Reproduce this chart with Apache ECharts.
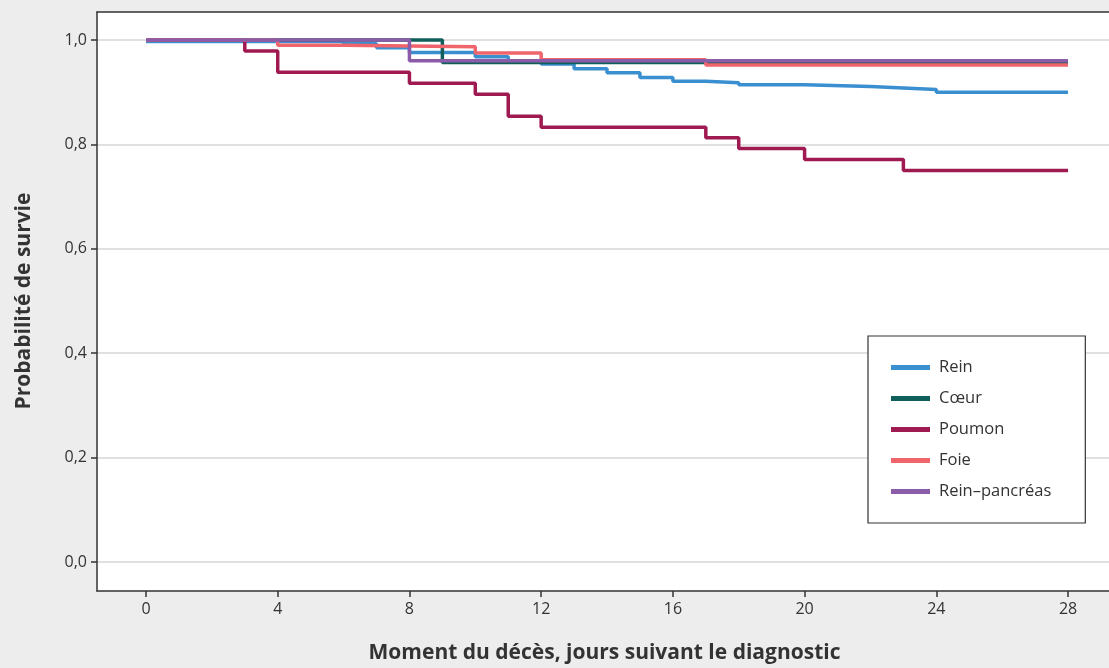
<!DOCTYPE html>
<html>
<head>
<meta charset="utf-8">
<script src="https://cdn.jsdelivr.net/npm/echarts@6/dist/echarts.min.js"></script>
<style>
html,body{margin:0;padding:0;background:#ededed;}
#chart{width:1109px;height:668px;}
</style>
</head>
<body>
<div id="chart"></div>
<script>
// Survival curves (Kaplan–Meier steps): days and survival probabilities
const seriesNames = ['Rein', 'Cœur', 'Poumon', 'Foie', 'Rein–pancréas'];
const reinDays   = [0, 6, 7, 8, 10, 11, 12, 13, 14, 15, 16, 17, 18, 20, 22, 23, 24, 28];
const reinVals   = [0.997, 0.993, 0.985, 0.976, 0.968, 0.960, 0.954, 0.945, 0.937, 0.928, 0.921, 0.918, 0.914, 0.911, 0.908, 0.905, 0.900, 0.900];
const coeurDays  = [0, 9, 28];
const coeurVals  = [1.0, 0.957, 0.957];
const poumonDays = [0, 3, 4, 8, 10, 11, 12, 17, 18, 20, 23, 28];
const poumonVals = [1.0, 0.979, 0.938, 0.917, 0.896, 0.854, 0.833, 0.8125, 0.792, 0.771, 0.75, 0.75];
const foieDays   = [0, 4, 6, 10, 12, 17, 28];
const foieVals   = [1.0, 0.990, 0.987, 0.975, 0.962, 0.952, 0.952];
const rpDays     = [0, 8, 28];
const rpVals     = [1.0, 0.960, 0.960];
const xTicks = [0, 4, 8, 12, 16, 20, 24, 28];
const yTicks = [0, 0.2, 0.4, 0.6, 0.8, 1.0];
const colors = ['#3a8fd0', '#115f5b', '#a01a52', '#f0646b', '#8b5ca8'];

const pairs = (d, v) => d.map((x, i) => [x, v[i]]);
const allData = [
  pairs(reinDays, reinVals),
  pairs(coeurDays, coeurVals),
  pairs(poumonDays, poumonVals),
  pairs(foieDays, foieVals),
  pairs(rpDays, rpVals)
];

const FONT = 'Open Sans';
const X_MIN = -1.488, X_MAX = 29.335;
const chart = echarts.init(document.getElementById('chart'));
chart.setOption({
  backgroundColor: '#ededed',
  animation: false,
  grid: {
    left: 97, top: 12, right: -3, bottom: 77,
    containLabel: false, outerBoundsMode: 'none',
    show: true, backgroundColor: '#ffffff', borderWidth: 0
  },
  xAxis: [{
    type: 'value', min: X_MIN, max: X_MAX, position: 'bottom',
    axisLine: { show: true, onZero: false, lineStyle: { color: '#333', width: 1.5 } },
    splitLine: { show: false },
    axisTick: { show: true, customValues: xTicks, length: 6, lineStyle: { color: '#333', width: 1.5 } },
    axisLabel: { customValues: xTicks, color: '#333', fontSize: 16, fontFamily: FONT, margin: 10 },
    name: 'Moment du décès, jours suivant le diagnostic',
    nameLocation: 'middle', nameGap: 52,
    nameTextStyle: { fontSize: 21, fontWeight: 'bold', color: '#333', fontFamily: FONT }
  }, {
    type: 'value', min: X_MIN, max: X_MAX, position: 'top',
    axisLine: { show: true, onZero: false, lineStyle: { color: '#333', width: 1.5 } },
    splitLine: { show: false }, axisTick: { show: false }, axisLabel: { show: false }
  }],
  yAxis: {
    type: 'value', min: -0.0556, max: 1.0536,
    axisLine: { show: true, onZero: false, lineStyle: { color: '#333', width: 1.5 } },
    splitLine: { show: true, lineStyle: { color: '#d6d6d6', width: 1.5 } },
    axisTick: { show: true, customValues: yTicks, length: 6, lineStyle: { color: '#333', width: 1.5 } },
    axisLabel: { customValues: yTicks, color: '#333', fontSize: 16, fontFamily: FONT, margin: 10,
      formatter: v => v.toFixed(1).replace('.', ',') }
  },
  graphic: [{
    type: 'text', x: 24, y: 301, rotation: Math.PI / 2,
    style: { text: 'Probabilité de survie', fontSize: 21, fontWeight: 'bold', fill: '#333',
      fontFamily: FONT, align: 'center', verticalAlign: 'middle' }
  }],
  legend: {
    orient: 'vertical', left: 868, top: 336,
    data: seriesNames,
    icon: 'rect', itemWidth: 39, itemHeight: 5, itemGap: 14,
    padding: [23, 34, 23, 23],
    backgroundColor: '#ffffff', borderColor: '#333333', borderWidth: 1.2,
    textStyle: { fontSize: 16.5, color: '#333', fontFamily: FONT, lineHeight: 16, padding: [0, 0, 0, 4] }
  },
  series: seriesNames.map((n, i) => ({
    name: n, type: 'line', step: 'end', data: allData[i],
    showSymbol: false, color: colors[i],
    lineStyle: { width: 3.5, color: colors[i] }
  }))
});
</script>
</body>
</html>
